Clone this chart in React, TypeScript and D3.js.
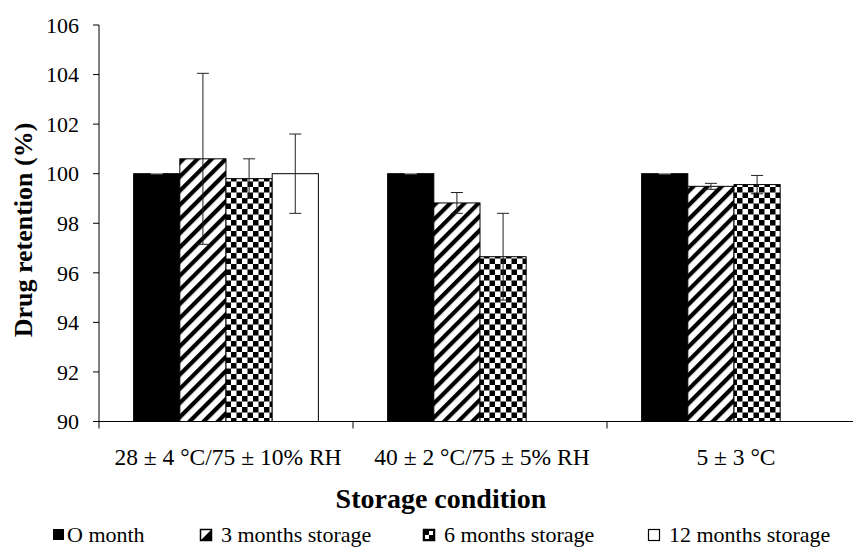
import * as d3 from "d3";

const categories = ["28 ± 4 °C/75 ± 10% RH", "40 ± 2 °C/75 ± 5% RH", "5 ± 3 °C"];
const seriesNames = ["O month", "3 months storage", "6 months storage", "12 months storage"];

// retention (%) per category, null = not measured
const month0 = [100, 100, 100];
const month3 = [100.6, 98.82, 99.49];
const month6 = [99.8, 96.65, 99.56];
const month12: (number | null)[] = [100, null, null];

const err0 = [0, 0, 0];
const err3 = [3.45, 0.42, 0.12];
const err6 = [0.8, 1.75, 0.37];
const err12: (number | null)[] = [1.6, null, null];

const yTicks = [90, 92, 94, 96, 98, 100, 102, 104, 106];

const seriesValues = [month0, month3, month6, month12];
const seriesErrors = [err0, err3, err6, err12];
const fills = ["#000", "url(#stripes)", "url(#checker)", "#fff"];

const W = 853;
const H = 547;
const left = 99;
const font = "'Times New Roman', 'Liberation Serif', serif";

export default function App() {
  const y = d3.scaleLinear().domain([90, 106]).range([421.5, 25]);
  const x0 = d3.scaleBand<string>().domain(categories).range([left, left + 254 * 3]);
  const x1 = d3
    .scaleBand<string>()
    .domain(seriesNames)
    .range([0, x0.bandwidth()])
    .paddingInner(0)
    .paddingOuter(0.75);

  const bw = x1.bandwidth();
  const legendX = [53, 200, 423, 648];

  return (
    <svg width={W} height={H} style={{ position: "absolute", left: 0, top: 0, background: "#fff" }}>
      <defs>
        <pattern id="stripes" width={10} height={10} patternUnits="userSpaceOnUse" patternTransform="rotate(45)">
          <rect width={10} height={10} fill="#fff" />
          <rect width={4.2} height={10} fill="#000" />
        </pattern>
        <pattern id="checker" width={11} height={11} patternUnits="userSpaceOnUse">
          <rect width={11} height={11} fill="#fff" />
          <rect width={5.5} height={5.5} fill="#000" />
          <rect x={5.5} y={5.5} width={5.5} height={5.5} fill="#000" />
        </pattern>
      </defs>

      {/* bars */}
      {seriesNames.map((s, si) =>
        categories.map((c, ci) => {
          const v = seriesValues[si][ci];
          if (v == null) return null;
          const bx = x0(c)! + x1(s)!;
          return (
            <rect
              key={s + c}
              x={bx}
              y={y(v)}
              width={bw}
              height={y(90) - y(v)}
              fill={fills[si]}
              stroke="#000"
              strokeWidth={1}
            />
          );
        })
      )}

      {/* error bars */}
      {seriesNames.map((s, si) =>
        categories.map((c, ci) => {
          const v = seriesValues[si][ci];
          const e = seriesErrors[si][ci];
          if (v == null || e == null) return null;
          const cx = x0(c)! + x1(s)! + bw / 2;
          const col = si === 0 ? "#999" : "#222";
          return (
            <g key={"e" + s + c} stroke={col} strokeWidth={1}>
              <line x1={cx} x2={cx} y1={y(v + e)} y2={y(v - e)} />
              <line x1={cx - 6} x2={cx + 6} y1={y(v + e)} y2={y(v + e)} />
              <line x1={cx - 6} x2={cx + 6} y1={y(v - e)} y2={y(v - e)} />
            </g>
          );
        })
      )}

      {/* y axis */}
      <line x1={left} x2={left} y1={y(106)} y2={y(90) + 7} stroke="#000" />
      {yTicks.map((t) => (
        <g key={t}>
          <line x1={left - 6} x2={left} y1={y(t)} y2={y(t)} stroke="#000" />
          <text x={left - 20} y={y(t)} dy="0.35em" textAnchor="end" fontFamily={font} fontSize={22}>
            {t}
          </text>
        </g>
      ))}

      {/* x axis */}
      <line x1={left} x2={W} y1={y(90)} y2={y(90)} stroke="#000" />
      {categories.map((c) => (
        <g key={c}>
          <line x1={x0(c)! + x0.bandwidth()} x2={x0(c)! + x0.bandwidth()} y1={y(90)} y2={y(90) + 7} stroke="#000" />
          <text x={x0(c)! + x0.bandwidth() / 2 + 2} y={465} textAnchor="middle" fontFamily={font} fontSize={23.5}>
            {c}
          </text>
        </g>
      ))}

      <text x={441} y={508} textAnchor="middle" fontFamily={font} fontSize={28} fontWeight="bold">
        Storage condition
      </text>
      <text
        transform="translate(32,230) rotate(-90)"
        textAnchor="middle"
        fontFamily={font}
        fontSize={26}
        fontWeight="bold"
      >
        Drug retention (%)
      </text>

      {/* legend */}
      {seriesNames.map((s, i) => {
        const lx = legendX[i];
        const sy = 529;
        return (
          <g key={"l" + s}>
            {i === 0 && <rect x={lx} y={sy} width={11} height={11} fill="#000" />}
            {i === 1 && (
              <g>
                <rect x={lx + 0.5} y={sy + 0.5} width={11} height={11} fill="#fff" stroke="#000" strokeWidth={1.5} />
                <polygon points={`${lx + 0.5},${sy + 11.5} ${lx + 11.5},${sy + 0.5} ${lx + 11.5},${sy + 11.5}`} fill="#000" />
              </g>
            )}
            {i === 2 && (
              <g>
                <rect x={lx + 0.5} y={sy + 0.5} width={11} height={11} fill="#000" stroke="#000" strokeWidth={1.5} />
                <rect x={lx + 6} y={sy + 2} width={4} height={4} fill="#fff" />
                <rect x={lx + 2} y={sy + 6} width={4} height={4} fill="#fff" />
              </g>
            )}
            {i === 3 && <rect x={lx + 0.5} y={sy + 0.5} width={11} height={11} fill="#fff" stroke="#000" strokeWidth={1.2} />}
            <text x={lx + (i === 0 ? 14 : 21)} y={542} fontFamily={font} fontSize={22}>
              {s}
            </text>
          </g>
        );
      })}
    </svg>
  );
}
